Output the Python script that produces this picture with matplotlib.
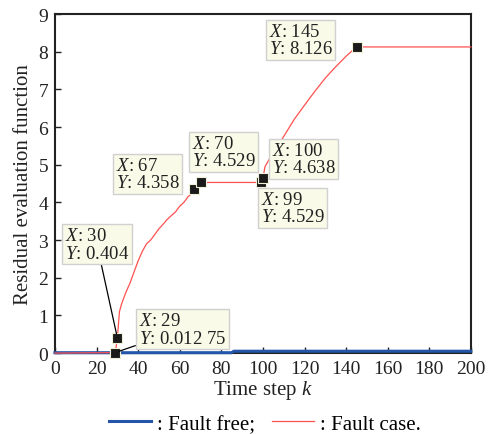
import matplotlib
matplotlib.use("Agg")
import matplotlib.pyplot as plt
from matplotlib.lines import Line2D

plt.rcParams['font.family'] = ['Liberation Serif', 'DejaVu Serif']
plt.rcParams['mathtext.fontset'] = 'custom'
plt.rcParams['mathtext.rm'] = 'Liberation Serif'
plt.rcParams['mathtext.it'] = 'Liberation Serif:italic'

# Fault-free residual (stays near zero)
k_free = [0, 85, 86, 200]
v_free = [0.01, 0.01, 0.05, 0.05]

# Fault-case residual
k_fault = [0, 29, 30, 31, 32, 34, 36, 38, 40, 42, 44, 46, 48, 50, 52, 54, 56, 58,
           60, 62, 64, 66, 67, 68, 69, 70, 99, 100, 101, 105, 110, 115, 120, 125,
           130, 135, 140, 145, 200]
v_fault = [0, 0.01275, 0.404, 1.1, 1.3, 1.6, 1.85, 2.15, 2.45, 2.7, 2.9, 3.0, 3.15,
           3.3, 3.42, 3.55, 3.65, 3.75, 3.9, 4.0, 4.15, 4.25, 4.358, 4.45, 4.5, 4.529,
           4.529, 4.638, 4.95, 5.33, 5.75, 6.2, 6.58, 6.95, 7.3, 7.6, 7.88, 8.126, 8.126]

# Data tips
tip_k = [29, 30, 67, 70, 99, 100, 145]
tip_v = [0.01275, 0.404, 4.358, 4.529, 4.529, 4.638, 8.126]
tip_ytext = ["0.012 75", "0.404", "4.358", "4.529", "4.529", "4.638", "8.126"]
# text top-left offsets (points) relative to each tip
tip_offsets = [(16.9, 29.3), (-37.9, 79.9), (-56.6, 23.1), (-6.4, 34.3),
               (-0.2, -6.0), (6.3, 26.3), (-63.2, 17.4)]

fig = plt.figure(figsize=(4.91, 4.35), dpi=100)
ax = fig.add_axes([0.112, 0.186, 0.847, 0.7795])

ax.plot(k_free, v_free, color='#2356a8', lw=2.2, zorder=3, clip_on=False)
ax.plot(k_fault, v_fault, color='#ff5050', lw=0.9, zorder=4, clip_on=False)

bbox = dict(boxstyle='square,pad=0.15', fc='#fafae8', ec='#d0d0d0', lw=1.0)
for kk, vv, yt, off in zip(tip_k, tip_v, tip_ytext, tip_offsets):
    ax.plot([kk], [vv], marker='s', ms=7, mfc='#1a1a1a', mec='#f0f0d8', mew=0.8,
            ls='none', zorder=5, clip_on=False)
    txt = "$X$: %d\n$Y$: %s" % (kk, yt)
    if kk in (29, 30):
        arrow = dict(arrowstyle='-', color='black', lw=0.9, shrinkA=0, shrinkB=3)
    else:
        arrow = None
    ax.annotate(txt, xy=(kk, vv), xytext=off, textcoords='offset points',
                fontsize=13.5, color='#222222', bbox=bbox, linespacing=1.05,
                ha='left', va='top', arrowprops=arrow, zorder=6)

ax.set_xlim(0, 200)
ax.set_ylim(0, 9)
ax.set_xticks(range(0, 201, 20))
ax.set_yticks(range(0, 10))
ax.tick_params(direction='in', length=4, width=1, labelsize=14, colors='#222222',
               pad=5)
for s in ax.spines.values():
    s.set_linewidth(1.5)
    s.set_color('#222222')
ax.set_xlabel('Time step $k$', fontsize=15, color='#222222', labelpad=1)
ax.set_ylabel('Residual evaluation function', fontsize=15, color='#222222',
              labelpad=4)

handles = [Line2D([0], [0], color='#2356a8', lw=2.2),
           Line2D([0], [0], color='#ff5050', lw=0.9)]
fig.legend(handles, [': Fault free;', ': Fault case.'], loc='center',
           bbox_to_anchor=(0.54, 0.023), ncol=2, frameon=False, fontsize=15,
           handlelength=2.0, handletextpad=0.3, columnspacing=0.8,
           borderpad=0.0)

fig.savefig('out.png', dpi=100)
